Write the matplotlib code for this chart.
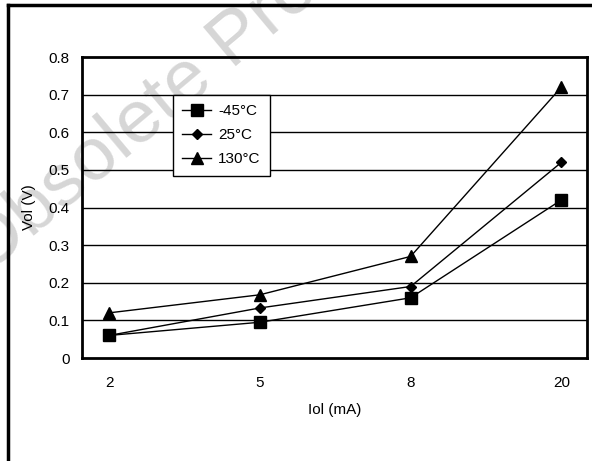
import matplotlib
matplotlib.use("Agg")
import matplotlib.pyplot as plt
from matplotlib.lines import Line2D

plt.rcParams['font.family'] = ['Liberation Sans', 'DejaVu Sans']

categories = ['2', '5', '8', '20']
series_labels = ['-45°C', '25°C', '130°C']
v_m45 = [0.06, 0.095, 0.16, 0.42]
v_25 = [0.06, 0.133, 0.19, 0.52]
v_130 = [0.12, 0.168, 0.27, 0.72]
y_ticks = [0, 0.1, 0.2, 0.3, 0.4, 0.5, 0.6, 0.7, 0.8]
y_tick_labels = ['0', '0.1', '0.2', '0.3', '0.4', '0.5', '0.6', '0.7', '0.8']

W, H = 592, 461
fig = plt.figure(figsize=(W / 100, H / 100), dpi=100)
fig.patch.set_facecolor('white')

# watermark (cut off by the page edge in the original)
fig.text(-14 / W, 1 - 276 / H, 'Obsolete Product', rotation=40, rotation_mode='anchor',
         ha='left', va='baseline', fontsize=54, color='#d6d6d6', zorder=-1)

# outer frame (left and top edges visible)
fig.add_artist(Line2D([8 / W, 8 / W], [0, 1 - 5 / H], transform=fig.transFigure,
                      color='black', lw=2.5, solid_capstyle='projecting'))
fig.add_artist(Line2D([8 / W, 1.0], [1 - 5 / H, 1 - 5 / H], transform=fig.transFigure,
                      color='black', lw=2.5, solid_capstyle='projecting'))

left, right, top, bottom = 82, 587, 57, 358
ax = fig.add_axes([left / W, 1 - bottom / H, (right - left) / W, (bottom - top) / H])
ax.set_facecolor('none')

x = list(range(len(categories)))
ax.plot(x, v_m45, color='black', lw=1, marker='s', markersize=8.5, label=series_labels[0], zorder=3)
ax.plot(x, v_25, color='black', lw=1, marker='D', markersize=5.5, label=series_labels[1], zorder=3)
ax.plot(x, v_130, color='black', lw=1, marker='^', markersize=8, label=series_labels[2], zorder=3)

ax.set_xlim(-0.18, 3.17)
ax.set_ylim(0, 0.8)
ax.set_xticks(x)
ax.set_xticklabels(categories)
ax.set_yticks(y_ticks)
ax.set_yticklabels(y_tick_labels)
ax.tick_params(axis='both', length=0, labelsize=11, colors='black')
ax.tick_params(axis='x', pad=13)
ax.tick_params(axis='y', pad=9)
for yv in y_ticks[1:-1]:
    ax.axhline(yv, color='black', lw=1, zorder=1)
for s in ax.spines.values():
    s.set_linewidth(2)
    s.set_color('black')

ax.set_xlabel('Iol (mA)', fontsize=11, labelpad=9)
ax.set_ylabel('Vol (V)', fontsize=11, labelpad=9)

leg = ax.legend(loc='upper left', bbox_to_anchor=((173 - left) / (right - left), (bottom - 95) / (bottom - top)),
                borderaxespad=0, frameon=True, fancybox=False, shadow=False, fontsize=11,
                handlelength=1.9, handletextpad=0.45, labelspacing=0.66, borderpad=0.6,
                markerscale=1.0)
leg.get_frame().set_edgecolor('black')
leg.get_frame().set_linewidth(1)
leg.get_frame().set_facecolor('white')
leg.get_frame().set_alpha(1)

fig.savefig('out.png', dpi=100)
